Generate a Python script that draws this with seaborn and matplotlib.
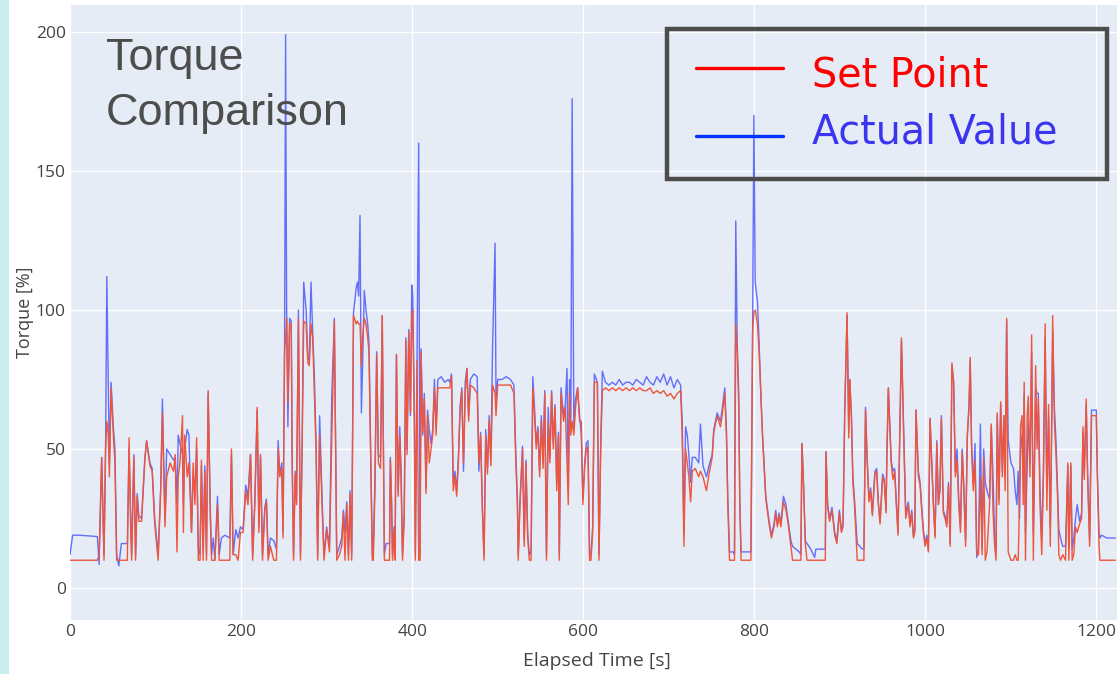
import numpy as np
import pandas as pd
import matplotlib
matplotlib.use("Agg")
import matplotlib.pyplot as plt
import seaborn as sns
from matplotlib.patches import Rectangle
from matplotlib.lines import Line2D

# values (seconds, percent)
time_s = [
    0, 3, 10, 20, 32, 34, 37, 39.7, 41.6, 43,
    44.7, 46, 48, 50.6, 52.5, 54.5, 57, 60, 67, 69,
    71, 72, 74.6, 76.6, 78.5, 80.5, 83.6, 87.5, 89.5, 93.4,
    96, 99, 103, 106, 108, 111, 113, 117, 121, 123,
    125, 126.5, 128.5, 131.5, 132.5, 134, 137, 139, 142, 144,
    146, 148, 150, 152, 153.6, 155.6, 157.6, 159.5, 161.5, 164,
    165.5, 167.5, 169.3, 172.4, 174.4, 177, 181, 186.8, 188.7, 190.7,
    193.8, 196.5, 199.2, 202.3, 205.4, 208, 211, 213.5, 216, 218.8,
    220.8, 222.7, 225, 227.7, 229.6, 231.6, 234.3, 238.2, 241.3, 243.3,
    245.2, 247.5, 249, 250.8, 252, 253.2, 254.7, 256.7, 258.6, 259.7,
    261.3, 263.2, 264.8, 267, 269.4, 271.3, 273.2, 276, 278, 279.7,
    281.7, 283.7, 285.6, 287.6, 289.5, 291.8, 294.9, 296.9, 300, 303.3,
    306, 309, 311.8, 315, 317.6, 319.6, 321.5, 323.5, 325.5, 327.4,
    329.3, 331.4, 334.6, 336, 337.4, 339, 340.6, 342, 344, 346,
    348, 349.5, 353.4, 354.5, 356.5, 358.5, 360.5, 363, 365, 367.5,
    369.5, 373.5, 374.5, 376, 377, 379, 380, 381.6, 383.6, 385.5,
    387, 388.7, 390.7, 392.6, 394, 396, 398, 399.5, 400.6, 402.5,
    403.7, 405.7, 407.6, 409.2, 410.4, 412.3, 414.2, 416.2, 418, 420,
    422, 424, 426, 428, 430, 434, 438, 442, 444, 446,
    448, 450, 452, 454, 456, 458, 460, 462, 464, 466,
    468, 472, 476, 478, 480, 482, 484, 486, 488, 490,
    492, 494, 496.9, 498, 500, 505, 510, 515, 519, 521,
    523, 524, 526, 529, 531, 533, 535, 537, 539, 541,
    543, 545, 547, 549, 551, 553, 555, 557, 559, 561,
    563, 565, 567, 569, 571, 572, 574, 577, 579, 581,
    582.5, 584, 585.5, 587, 589, 591, 593.4, 595.7, 597.7, 599.6,
    601.6, 603.5, 605.5, 607.4, 609, 611, 613, 616.5, 618.4, 620.4,
    622.3, 626, 630, 634, 638, 642, 646, 650, 654, 658,
    662, 666, 670, 674, 678, 682, 686, 690, 694, 698,
    702, 706, 710, 713.8, 715.7, 717.7, 719.6, 721.6, 723.5, 725.5,
    727.5, 731, 735, 737, 740, 744, 747, 750.7, 752.6, 756.5,
    760.4, 762.3, 765.4, 767.4, 769, 771, 775.2, 776.8, 778.3, 780,
    781.8, 783, 784.5, 790, 796, 798, 799.5, 801, 803.7, 805.6,
    807.6, 809.5, 813.4, 817.3, 820, 823, 825, 827, 829, 831,
    834, 837, 839.6, 842.8, 844.7, 852.5, 854.4, 855.7, 857.7, 859.6,
    861.6, 866, 870.5, 872, 878, 883, 883.8, 885.7, 888, 890.8,
    894, 896.5, 899.4, 901.8, 903.7, 905.7, 908.4, 910.4, 911.6, 913.6,
    915.2, 917.1, 920.3, 926.2, 928.1, 930, 932, 934, 936, 938,
    941, 943, 945, 947, 950, 952, 954, 955, 956.7, 958.6,
    960, 962, 964, 966, 968, 970, 972, 974.6, 977, 980,
    982, 984, 986, 987.6, 989, 991.8, 993.8, 995.7, 997.6, 999.6,
    1001.6, 1003.5, 1005.4, 1007.4, 1009.3, 1011.3, 1013.3, 1015.2, 1017, 1018.7,
    1021, 1023, 1025, 1027, 1029, 1031, 1033, 1035, 1037, 1039,
    1041, 1043, 1045, 1047, 1049, 1051, 1052.4, 1054, 1056, 1058,
    1060, 1062, 1064.3, 1066.3, 1068.2, 1070, 1072, 1075, 1077, 1079,
    1081, 1082.6, 1084, 1086, 1088, 1090, 1091.7, 1093.2, 1095, 1096.8,
    1100, 1103, 1105, 1107, 1108.5, 1110, 1111.2, 1113, 1114.3, 1115.5,
    1117, 1119, 1120.3, 1122.3, 1124.2, 1126.2, 1128.9, 1130.5, 1132, 1134,
    1136, 1138, 1140, 1142, 1144, 1146, 1147.3, 1148.8, 1150.8, 1152.8,
    1154.8, 1156, 1158, 1160.6, 1163.8, 1166.5, 1167.7, 1170, 1171.6, 1173.5,
    1175.5, 1177.5, 1180.2, 1182.6, 1184.2, 1185.7, 1188, 1189.6, 1192, 1194.2,
    1197, 1199.8, 1201, 1203, 1204, 1206, 1212, 1222,
]

set_point = [
    10, 10, 10, 10, 10, 12, 47, 10, 50, 60,
    55, 40, 72, 55, 45, 10, 10, 10, 10, 54,
    20, 10, 47, 10, 33, 24, 24, 46, 53, 44,
    42, 23, 10, 35, 63, 22, 40, 45, 42, 48,
    13, 40, 45, 62, 20, 55, 40, 45, 20, 45,
    30, 54, 10, 10, 46, 10, 42, 10, 71, 25,
    10, 10, 10, 30, 10, 10, 10, 10, 50, 12,
    12, 10, 20, 20, 35, 30, 48, 10, 30, 65,
    20, 48, 10, 28, 31, 10, 15, 10, 10, 50,
    40, 43, 18, 85, 90, 97, 67, 95, 95, 45,
    10, 41, 30, 97, 10, 50, 96, 95, 81, 80,
    95, 90, 70, 50, 10, 55, 28, 10, 21, 13,
    54, 96, 10, 12, 15, 27, 10, 30, 10, 34,
    10, 98, 95, 96, 95, 95, 80, 90, 97, 95,
    90, 85, 10, 10, 35, 84, 45, 43, 98, 10,
    10, 10, 46, 29, 10, 21, 10, 84, 33, 55,
    40, 10, 25, 89, 48, 92, 63, 98, 100, 60,
    10, 82, 10, 10, 85, 56, 68, 34, 62, 45,
    50, 55, 72, 55, 72, 72, 72, 72, 72, 76,
    35, 40, 33, 45, 64, 71, 45, 70, 79, 60,
    73, 72, 70, 45, 55, 28, 10, 55, 41, 60,
    44, 73, 70, 62, 73, 73, 73, 73, 70, 47,
    30, 10, 30, 50, 15, 45, 18, 10, 10, 72,
    62, 50, 57, 40, 60, 43, 70, 10, 60, 45,
    70, 50, 65, 35, 55, 10, 70, 60, 65, 45,
    30, 70, 55, 60, 55, 65, 72, 60, 60, 30,
    43, 50, 51, 10, 10, 20, 74, 74, 10, 50,
    71, 72, 71, 72, 71, 72, 71, 72, 71, 72,
    71, 72, 71, 71, 72, 70, 71, 70, 71, 69,
    70, 68, 70, 71, 55, 15, 50, 45, 40, 31,
    42, 43, 40, 42, 40, 35, 41, 47, 56, 62,
    58, 62, 70, 55, 30, 10, 10, 10, 95, 85,
    65, 30, 10, 10, 10, 92, 99, 100, 95, 85,
    70, 55, 32, 23, 18, 22, 27, 22, 26, 22,
    31, 28, 23, 15, 10, 10, 10, 52, 35, 16,
    10, 10, 10, 10, 10, 10, 49, 29, 24, 28,
    19, 16, 27, 20, 22, 63, 99, 54, 75, 60,
    38, 30, 10, 10, 10, 64, 45, 31, 35, 26,
    41, 42, 30, 23, 40, 38, 27, 48, 72, 56,
    45, 39, 42, 30, 19, 55, 90, 55, 25, 30,
    22, 27, 18, 20, 64, 40, 37, 28, 20, 15,
    18, 13, 61, 45, 30, 18, 52, 30, 35, 61,
    27, 25, 22, 37, 15, 81, 74, 40, 46, 30,
    20, 49, 35, 15, 55, 66, 83, 50, 35, 46,
    12, 12, 40, 12, 47, 10, 13, 30, 59, 28,
    15, 10, 63, 30, 67, 40, 62, 35, 97, 13,
    10, 10, 12, 10, 10, 30, 58, 62, 30, 74,
    10, 62, 69, 40, 91, 10, 80, 50, 68, 30,
    12, 40, 95, 28, 66, 15, 50, 98, 60, 47,
    30, 12, 10, 12, 10, 45, 10, 45, 10, 12,
    22, 20, 23, 25, 58, 39, 68, 40, 15, 62,
    62, 62, 40, 15, 10, 10, 10, 10,
]

actual_value = [
    12, 19, 19, 18.8, 18.5, 8.5, 47, 12, 52, 112,
    75, 45, 74, 58, 50, 12, 8, 16, 16, 50,
    25, 12, 48, 12, 34, 26, 25, 47, 53, 45,
    43, 25, 12, 36, 68, 25, 50, 48, 46, 47,
    30, 55, 52, 48, 30, 50, 57, 55, 20, 42,
    33, 50, 14, 12, 44, 14, 44, 12, 70, 28,
    12, 18, 10, 33, 12, 18, 19, 18, 48, 12,
    21, 18, 22, 21, 37, 33, 48, 12, 31, 64,
    22, 47, 12, 29, 32, 12, 18, 17, 14, 53,
    41, 45, 20, 86, 199, 100, 58, 97, 96, 47,
    12, 42, 31, 100, 12, 51, 110, 100, 83, 82,
    110, 92, 77, 52, 12, 62, 30, 12, 22, 15,
    69, 97, 12, 15, 18, 28, 20, 31, 12, 35,
    12, 99, 108, 110, 105, 134, 63, 80, 107, 100,
    95, 88, 12, 14, 40, 85, 48, 47, 98, 12,
    16, 16, 47, 30, 12, 22, 12, 84, 35, 58,
    42, 12, 27, 90, 50, 93, 62, 109, 105, 65,
    12, 83, 160, 12, 86, 55, 70, 36, 64, 57,
    52, 57, 75, 58, 75, 76, 74, 75, 74, 77,
    38, 42, 35, 47, 65, 72, 42, 74, 79, 62,
    75, 77, 76, 42, 56, 30, 12, 57, 43, 62,
    46, 87, 124, 68, 75, 75, 76, 75, 73, 50,
    32, 12, 31, 51, 17, 46, 20, 12, 13, 76,
    65, 52, 58, 42, 62, 45, 71, 12, 65, 47,
    71, 52, 66, 37, 56, 12, 72, 62, 66, 79,
    35, 75, 60, 176, 58, 68, 72, 62, 55, 32,
    45, 52, 53, 12, 12, 22, 77, 74, 12, 52,
    78, 74, 73, 74, 73, 75, 73, 74, 74, 73,
    75, 74, 73, 76, 74, 73, 76, 74, 77, 73,
    76, 72, 75, 73, 60, 20, 58, 55, 48, 38,
    47, 47, 45, 59, 44, 40, 44, 48, 57, 63,
    60, 64, 72, 57, 32, 13, 13, 12, 132, 88,
    70, 32, 13, 13, 13, 93, 170, 110, 103, 88,
    70, 56, 33, 24, 19, 23, 28, 23, 27, 23,
    33, 30, 24, 17, 15, 13, 12, 52, 36, 17,
    16, 14, 11, 14, 14, 14, 49, 30, 25, 29,
    20, 17, 28, 21, 23, 64, 98, 56, 75, 62,
    40, 32, 16, 14, 14, 65, 46, 32, 36, 27,
    42, 43, 31, 24, 41, 39, 28, 49, 72, 57,
    46, 42, 43, 31, 20, 55, 89, 56, 27, 31,
    23, 28, 19, 21, 64, 42, 38, 29, 21, 16,
    19, 14, 61, 46, 31, 19, 53, 30, 36, 62,
    28, 26, 23, 38, 16, 80, 74, 42, 50, 32,
    22, 50, 36, 17, 54, 65, 82, 52, 37, 52,
    11, 14, 59, 14, 50, 38, 35, 32, 58, 41,
    17, 13, 62, 32, 66, 42, 62, 40, 96, 53,
    45, 43, 35, 30, 42, 25, 50, 55, 40, 70,
    20, 45, 60, 45, 85, 20, 72, 70, 70, 35,
    18, 42, 90, 35, 62, 22, 48, 92, 65, 52,
    33, 21, 18, 15, 15, 44, 14, 44, 14, 18,
    25, 30, 24, 27, 56, 41, 66, 42, 17, 64,
    64, 64, 42, 20, 18, 19, 18, 18,
]

x_ticks = [0, 200, 400, 600, 800, 1000, 1200]
y_ticks = [0, 50, 100, 150, 200]
series_names = ["Set Point", "Actual Value"]

df = pd.DataFrame({"time": time_s, "set": set_point, "actual": actual_value})

sns.set_style("darkgrid", {"axes.facecolor": "#E5ECF6", "grid.color": "white"})
plt.rcParams["font.family"] = ["Open Sans", "DejaVu Sans"]

fig = plt.figure(figsize=(11.17, 6.74), dpi=100)
ax = fig.add_axes([0.0627, 0.0801, 0.9373, 0.9125])

sns.lineplot(data=df, x="time", y="actual", color="#636EFA", lw=1.0,
             sort=False, estimator=None, ax=ax)
sns.lineplot(data=df, x="time", y="set", color="#EF553B", lw=1.0,
             sort=False, estimator=None, ax=ax)

ax.set_xlim(0, 1224)
ax.set_ylim(-11.5, 209.7)
ax.set_xticks(x_ticks)
ax.set_yticks(y_ticks)
ax.tick_params(axis="both", length=0, pad=3, labelsize=12.5, labelcolor="#444444")
ax.grid(True, color="white", lw=1.0)
for s in ax.spines.values():
    s.set_visible(False)

ax.set_xlabel("Elapsed Time [s]", fontsize=14, color="#444444")
ax.set_ylabel("Torque [%]", fontsize=13, color="#444444")
ax.xaxis.set_label_coords(0.503, -0.052)
ax.yaxis.set_label_coords(-0.034, 0.5)

# title inside the plot
ax.text(0.034, 0.946, "Torque\nComparison", transform=ax.transAxes,
        fontsize=32.5, color="#4d4d4d", family="Liberation Sans",
        va="top", ha="left", linespacing=1.42)

# hand-drawn style legend box
ax.add_patch(Rectangle((0.570, 0.717), 0.420, 0.244, transform=ax.transAxes,
                       fill=False, edgecolor="#4d4d4d", lw=3.2, zorder=5))
leg_colors = ["#FF0000", "#0033FF"]
txt_colors = ["#FF0000", "#3b36ee"]
for name, ly, ty, lc, tc in zip(series_names, [0.898, 0.787], [0.886, 0.792],
                                leg_colors, txt_colors):
    ax.add_line(Line2D([0.598, 0.681], [ly, ly], transform=ax.transAxes,
                       color=lc, lw=2.4, zorder=6))
    ax.text(0.709, ty, name, transform=ax.transAxes, fontsize=28.5,
            color=tc, family="DejaVu Sans", va="center", ha="left", zorder=6)

# light strip at left edge of slide
fig.patches.append(Rectangle((0, 0), 0.008, 1, transform=fig.transFigure,
                             facecolor="#c9eeee", edgecolor="none"))

fig.savefig("out.png", dpi=100)
